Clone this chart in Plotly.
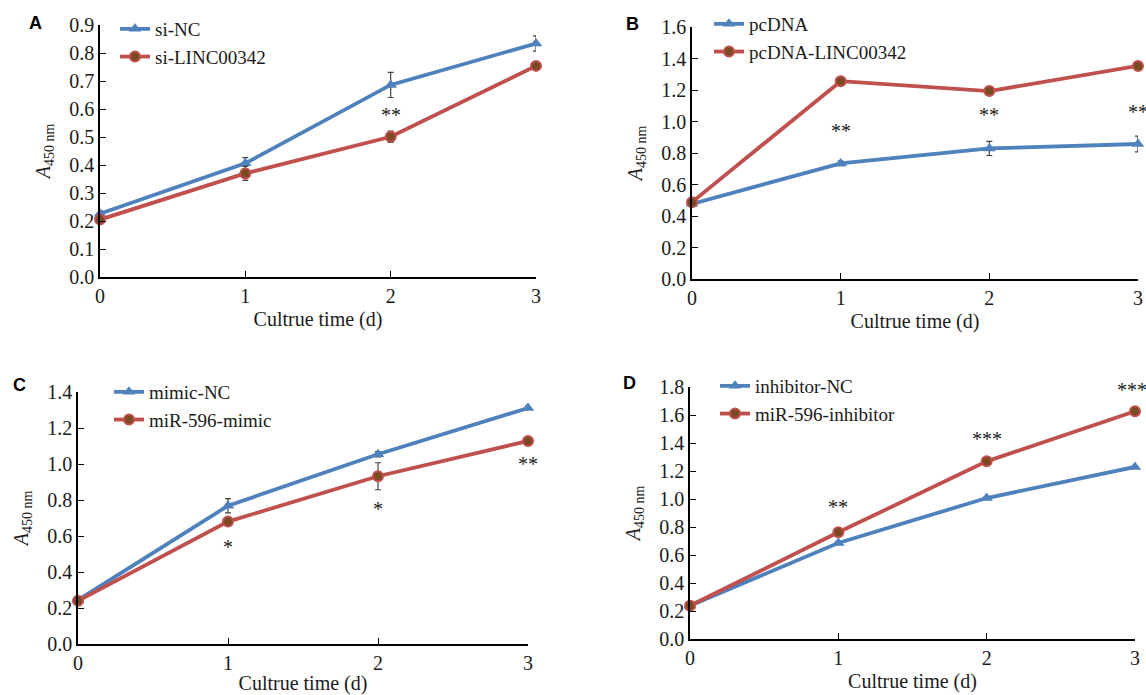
import plotly.graph_objects as go

days = [0, 1, 2, 3]

# Panel A
a_nc = [0.226, 0.406, 0.686, 0.834]
a_nc_err = [0.01, 0.02, 0.045, 0.027]
a_si = [0.205, 0.370, 0.501, 0.754]
a_si_err = [0.01, 0.025, 0.02, 0.012]
a_sig_x = [2, 3.08]
a_sig_y = [0.58, 0.78]
a_sig_t = ["**", "*"]

# Panel B
b_nc = [0.477, 0.734, 0.829, 0.857]
b_nc_err = [0.01, 0.015, 0.045, 0.05]
b_oe = [0.488, 1.256, 1.193, 1.353]
b_oe_err = [0.01, 0.02, 0.02, 0.01]
b_sig_x = [1, 2, 3]
b_sig_y = [0.94, 1.04, 1.06]
b_sig_t = ["**", "**", "**"]

# Panel C
c_nc = [0.244, 0.768, 1.054, 1.311]
c_nc_err = [0.01, 0.04, 0.015, 0.01]
c_mi = [0.240, 0.680, 0.932, 1.128]
c_mi_err = [0.01, 0.015, 0.075, 0.01]
c_sig_x = [1, 2, 3]
c_sig_y = [0.54, 0.75, 1.00]
c_sig_t = ["*", "*", "**"]

# Panel D
d_nc = [0.238, 0.686, 1.007, 1.229]
d_nc_err = [0.01, 0.01, 0.01, 0.01]
d_in = [0.238, 0.762, 1.269, 1.626]
d_in_err = [0.01, 0.01, 0.01, 0.01]
d_sig_x = [1, 2, 2.98]
d_sig_y = [0.94, 1.43, 1.78]
d_sig_t = ["**", "***", "***"]

BLUE = "#4F81BD"
RED = "#C0504D"
FONT = "Liberation Serif"
W, H = 1146, 695

# positions below are in page pixels
panels = [
    dict(nc=a_nc, nce=a_nc_err, tr=a_si, tre=a_si_err, names=("si-NC", "si-LINC00342"),
         xpx=(100, 536), ypx=(277, 25), yr=0.9, dt=0.1,
         sx=a_sig_x, sy=a_sig_y, st=a_sig_t, label="A", lab=(35, 23), leg=(115, 10)),
    dict(nc=b_nc, nce=b_nc_err, tr=b_oe, tre=b_oe_err, names=("pcDNA", "pcDNA-LINC00342"),
         xpx=(692, 1138), ypx=(279, 27), yr=1.6, dt=0.2,
         sx=b_sig_x, sy=b_sig_y, st=b_sig_t, label="B", lab=(632, 24), leg=(709, 5)),
    dict(nc=c_nc, nce=c_nc_err, tr=c_mi, tre=c_mi_err, names=("mimic-NC", "miR-596-mimic"),
         xpx=(78, 528), ypx=(644, 392), yr=1.4, dt=0.2,
         sx=c_sig_x, sy=c_sig_y, st=c_sig_t, label="C", lab=(19, 385), leg=(109, 373)),
    dict(nc=d_nc, nce=d_nc_err, tr=d_in, tre=d_in_err, names=("inhibitor-NC", "miR-596-inhibitor"),
         xpx=(690, 1135), ypx=(639, 387), yr=1.8, dt=0.2,
         sx=d_sig_x, sy=d_sig_y, st=d_sig_t, label="D", lab=(629, 383), leg=(715, 367)),
]


def px_x(v):
    return v / W


def px_y(v):
    return (H - v) / H


fig = go.Figure()
annotations = []
layout = dict(
    template="none",
    width=W, height=H, margin=dict(l=0, r=0, t=0, b=0, autoexpand=False),
    paper_bgcolor="white", plot_bgcolor="white",
    font=dict(family=FONT, size=20, color="#1a1a1a"),
    showlegend=True,
)

for i, p in enumerate(panels):
    n = i + 1
    xa = "x" if n == 1 else f"x{n}"
    ya = "y" if n == 1 else f"y{n}"
    lg = "legend" if n == 1 else f"legend{n}"
    err_style = dict(type="data", thickness=1.2, width=3, color="#444444")
    fig.add_trace(go.Scatter(
        x=days, y=p["nc"], name=p["names"][0], mode="lines+markers",
        xaxis=xa, yaxis=ya, legend=lg, cliponaxis=False,
        line=dict(color=BLUE, width=3.8),
        marker=dict(symbol="triangle-up", size=11, color=BLUE),
        error_y=dict(array=p["nce"], **err_style),
    ))
    fig.add_trace(go.Scatter(
        x=days, y=p["tr"], name=p["names"][1], mode="lines+markers",
        xaxis=xa, yaxis=ya, legend=lg, cliponaxis=False,
        line=dict(color=RED, width=3.8),
        marker=dict(symbol="circle", size=10, color="#7B4A22", line=dict(color=RED, width=2)),
        error_y=dict(array=p["tre"], **err_style),
    ))
    x0, x1 = p["xpx"]
    yb, yt = p["ypx"]
    xdom = [px_x(x0), px_x(x1)]
    ydom = [px_y(yb), px_y(yt)]
    axis_common = dict(showline=True, linecolor="black", linewidth=1.5, showgrid=False,
                       zeroline=False, ticks="inside", ticklen=6, tickcolor="black",
                       tickwidth=1.2, automargin=False,
                       tickfont=dict(family=FONT, size=20, color="#1a1a1a"))
    layout["xaxis" if n == 1 else f"xaxis{n}"] = dict(
        domain=xdom, range=[0, 3], tickvals=days, ticktext=[str(d) for d in days],
        anchor=ya,
        title=dict(text="Cultrue time (d)", standoff=6, font=dict(family=FONT, size=20)),
        **axis_common)
    nt = int(round(p["yr"] / p["dt"])) + 1
    yv = [round(k * p["dt"], 2) for k in range(nt)]
    layout["yaxis" if n == 1 else f"yaxis{n}"] = dict(
        domain=ydom, range=[0, p["yr"]], tickvals=yv, ticktext=[f"{v:.1f}" for v in yv],
        anchor=xa,
        title=dict(text="<i>A</i><sub>450 nm</sub>", standoff=13, font=dict(family=FONT, size=20)),
        **axis_common)
    lx, ly = p["leg"]
    layout[lg] = dict(x=px_x(lx), y=px_y(ly), xanchor="left", yanchor="top",
                      bgcolor="rgba(0,0,0,0)", borderwidth=0, tracegroupgap=0,
                      font=dict(family=FONT, size=19, color="#1a1a1a"),
                      itemwidth=30)
    for sx, sy, st in zip(p["sx"], p["sy"], p["st"]):
        annotations.append(dict(x=sx, y=sy, xref=xa, yref=ya, text=st, showarrow=False,
                                xanchor="center", yanchor="middle",
                                font=dict(family=FONT, size=20, color="#1a1a1a")))
    annotations.append(dict(x=px_x(p["lab"][0]), y=px_y(p["lab"][1]), xref="paper", yref="paper",
                            xanchor="center", yanchor="middle",
                            text="<b>" + p["label"] + "</b>", showarrow=False,
                            font=dict(family="Liberation Sans", size=18, color="black")))

layout["annotations"] = annotations
fig.update_layout(**layout)
fig.write_html(
    "out.html",
    config={"displayModeBar": False},
    post_script="document.body.style.margin='0';document.body.style.overflow='hidden';",
)
